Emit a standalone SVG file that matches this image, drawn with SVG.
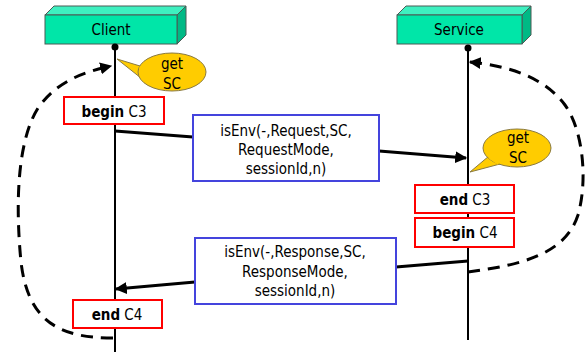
<svg xmlns="http://www.w3.org/2000/svg" width="587" height="352" viewBox="0 0 587 352">
<style>
text{font-family:"DejaVu Sans Condensed","DejaVu Sans",sans-serif;font-size:15px;fill:#000;text-anchor:middle}
.b{font-weight:bold}
.front{fill:#00e6a8;stroke:#4a5a55;stroke-width:1}
.top{fill:#3ef0c0;stroke:#4a5a55;stroke-width:1}
.side{fill:#00b985;stroke:#4a5a55;stroke-width:1}
.life{stroke:#000;stroke-width:2;fill:none}
.msg{stroke:#000;stroke-width:3;fill:none}
.dash{stroke:#000;stroke-width:3;fill:none;stroke-dasharray:12 8}
.red{fill:#fff;stroke:#ff0000;stroke-width:2}
.blue{fill:#fff;stroke:#4444dd;stroke-width:2}
.bub{fill:#ffcc00;stroke:#8a7a40;stroke-width:1}
</style>
<defs>
<marker id="ah" viewBox="0 0 10 10" refX="9" refY="5" markerWidth="4" markerHeight="4" orient="auto" markerUnits="strokeWidth">
<path d="M0,0 L10,5 L0,10 z" fill="#000"/>
</marker>
</defs>
<g id="client">
<polygon class="top" points="45,15 54,6 186,6 177,15"/>
<polygon class="side" points="177,15 186,6 186,35 177,44"/>
<rect class="front" x="45" y="15" width="132" height="29"/>
<text x="111" y="35">Client</text>
</g>
<g id="service">
<polygon class="top" points="397,15 406,6 531,6 522,15"/>
<polygon class="side" points="522,15 531,6 531,35 522,44"/>
<rect class="front" x="397" y="15" width="125" height="29"/>
<text x="459" y="35">Service</text>
</g>
<g id="lifelines">
<line class="life" x1="115" y1="47" x2="115" y2="352"/>
<circle cx="115" cy="47" r="3.5" fill="#000"/>
<line class="life" x1="468" y1="48" x2="468" y2="340"/>
<circle cx="468" cy="48" r="3.5" fill="#000"/>
</g>
<g id="getSC1">
<path class="bub" d="M140,66 L117,59 L146,82 Z"/>
<ellipse class="bub" cx="172" cy="72" rx="34" ry="19"/>
<path d="M141,66 L146,81" stroke="#ffcc00" stroke-width="4"/>
<text x="172" y="69">get</text>
<text x="172" y="89">SC</text>
</g>
<g id="getSC2">
<path class="bub" d="M489,156 L470,172 L500,164 Z"/>
<ellipse class="bub" cx="517" cy="148" rx="34" ry="19"/>
<path d="M490,157 L499,163" stroke="#ffcc00" stroke-width="4"/>
<text x="518" y="143">get</text>
<text x="518" y="163">SC</text>
</g>
<g id="beginC3">
<rect class="red" x="64" y="97" width="100" height="27"/>
<text x="114" y="117"><tspan class="b">begin</tspan> C3</text>
</g>
<g id="endC3">
<rect class="red" x="415" y="185" width="99" height="28"/>
<text x="465" y="205"><tspan class="b">end</tspan> C3</text>
</g>
<g id="beginC4">
<rect class="red" x="415" y="218" width="99" height="29"/>
<text x="465" y="238"><tspan class="b">begin</tspan> C4</text>
</g>
<g id="endC4">
<rect class="red" x="73" y="300" width="89" height="28"/>
<text x="117" y="320"><tspan class="b">end</tspan> C4</text>
</g>
<g id="connectors">
<line class="msg" x1="115" y1="131" x2="193" y2="137"/>
<line class="msg" x1="379" y1="151" x2="466" y2="158" marker-end="url(#ah)"/>
<line class="msg" x1="468" y1="261" x2="396" y2="267"/>
<line class="msg" x1="195" y1="282" x2="116" y2="289" marker-end="url(#ah)"/>
<path class="dash" d="M113,338 C60,338 28,322 21,262 C15,200 18,140 38,108 C58,80 85,72 111,66" marker-end="url(#ah)"/>
<path class="dash" d="M468,272 C520,265 565,255 578,215 C588,180 583,130 565,105 C545,78 510,66 470,62" marker-end="url(#ah)"/>
</g>
<g id="request">
<rect class="blue" x="193" y="115" width="186" height="66"/>
<text x="286" y="136">isEnv(-,Request,SC,</text>
<text x="286" y="155">RequestMode,</text>
<text x="286" y="174">sessionId,n)</text>
</g>
<g id="response">
<rect class="blue" x="195" y="238" width="201" height="66"/>
<text x="295" y="257">isEnv(-,Response,SC,</text>
<text x="295" y="277">ResponseMode,</text>
<text x="295" y="296">sessionId,n)</text>
</g>
</svg>
